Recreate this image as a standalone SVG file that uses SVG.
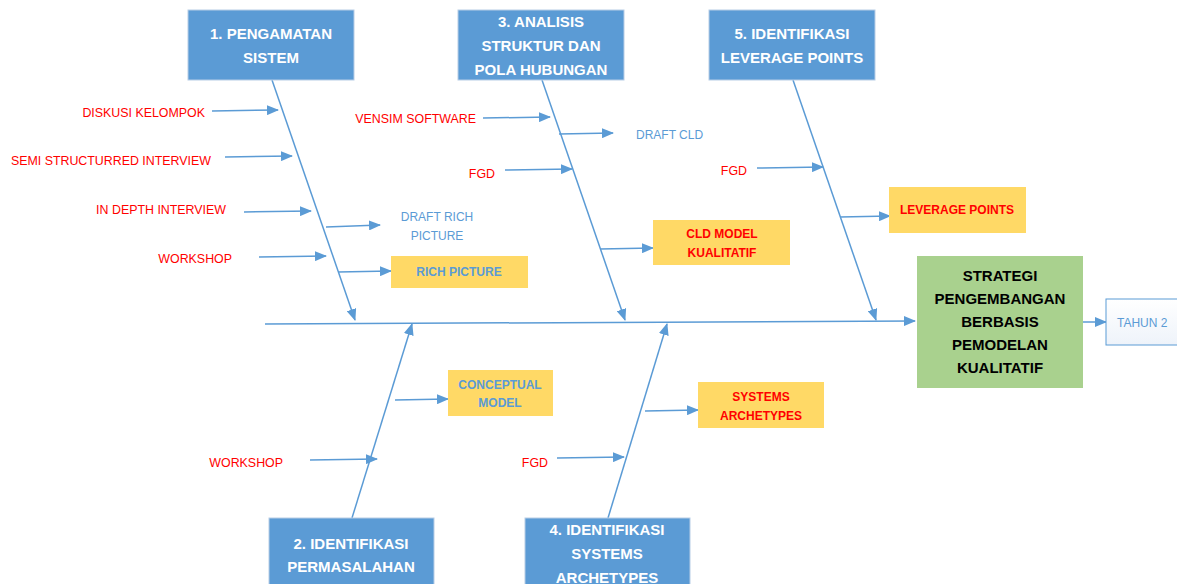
<svg xmlns="http://www.w3.org/2000/svg" width="1177" height="584" viewBox="0 0 1177 584">
<defs>
<marker id="ah" markerUnits="userSpaceOnUse" markerWidth="12" markerHeight="10" refX="11" refY="5" orient="auto">
<path d="M0,0 L12,5 L0,10 Z" fill="#5B9BD5"/>
</marker>
<linearGradient id="tg" x1="0" y1="0" x2="0" y2="1"><stop offset="0" stop-color="#ffffff"/><stop offset="1" stop-color="#eef3fa"/></linearGradient>
<style>
.ln{stroke:#5B9BD5;stroke-width:1.5;fill:none}
.ar{stroke:#5B9BD5;stroke-width:1.5;fill:none;marker-end:url(#ah)}
.bb{fill:#5B9BD5;stroke:#B8CDE6;stroke-width:1}
.bt{font-family:"Liberation Sans",Arial,sans-serif;font-weight:bold;font-size:15px;fill:#ffffff;text-anchor:middle}
.rd{font-family:"Liberation Sans",Arial,sans-serif;font-size:12.4px;fill:#FF0000}
.bl{font-family:"Liberation Sans",Arial,sans-serif;font-size:12px;fill:#5B9BD5}
.yb{fill:#FFD966}
.yr{font-family:"Liberation Sans",Arial,sans-serif;font-weight:bold;font-size:12px;fill:#FF0000;text-anchor:middle}
.yl{font-family:"Liberation Sans",Arial,sans-serif;font-weight:bold;font-size:12px;fill:#5B9BD5;text-anchor:middle}
.gt{font-family:"Liberation Sans",Arial,sans-serif;font-weight:bold;font-size:15px;fill:#000000;text-anchor:middle}
</style>
</defs>
<rect width="1177" height="584" fill="#ffffff"/>

<g id="connectors">
<line class="ar" x1="265" y1="324" x2="915" y2="321"/>
<line class="ar" x1="272" y1="80" x2="355" y2="320"/>
<line class="ar" x1="542" y1="80" x2="625" y2="320"/>
<line class="ar" x1="793" y1="80" x2="876" y2="320"/>
<line class="ar" x1="352" y1="518" x2="412" y2="324"/>
<line class="ar" x1="608" y1="518" x2="667" y2="324"/>
<line class="ar" x1="212" y1="111" x2="278" y2="110"/>
<line class="ar" x1="225" y1="157" x2="292" y2="156"/>
<line class="ar" x1="244" y1="212" x2="311" y2="211"/>
<line class="ar" x1="259" y1="257" x2="326" y2="256"/>
<line class="ar" x1="326" y1="227" x2="380" y2="225"/>
<line class="ar" x1="338" y1="272" x2="391" y2="271"/>
<line class="ar" x1="483" y1="118" x2="550" y2="117"/>
<line class="ar" x1="559" y1="134" x2="613" y2="133"/>
<line class="ar" x1="505" y1="170" x2="572" y2="169"/>
<line class="ar" x1="600" y1="249" x2="653" y2="248"/>
<line class="ar" x1="757" y1="168" x2="823" y2="167"/>
<line class="ar" x1="840" y1="217" x2="890" y2="216"/>
<line class="ar" x1="310" y1="460" x2="377" y2="459"/>
<line class="ar" x1="395" y1="400" x2="448" y2="399"/>
<line class="ar" x1="557" y1="458" x2="624" y2="457"/>
<line class="ar" x1="645" y1="411" x2="698" y2="410"/>
<line class="ar" x1="1083" y1="322" x2="1106" y2="322"/>
</g>

<g id="box1">
<rect class="bb" x="188" y="10" width="166" height="70"/>
<text class="bt" x="271" y="39">1. PENGAMATAN</text>
<text class="bt" x="271" y="63">SISTEM</text>
</g>
<g id="box3">
<rect class="bb" x="458" y="10" width="166" height="70"/>
<text class="bt" x="541" y="27">3. ANALISIS</text>
<text class="bt" x="541" y="51">STRUKTUR DAN</text>
<text class="bt" x="541" y="75">POLA HUBUNGAN</text>
</g>
<g id="box5">
<rect class="bb" x="709" y="10" width="166" height="70"/>
<text class="bt" x="792" y="39">5.  IDENTIFIKASI</text>
<text class="bt" x="792" y="63">LEVERAGE POINTS</text>
</g>
<g id="box2">
<rect class="bb" x="269" y="518" width="165" height="70"/>
<text class="bt" x="351" y="549">2. IDENTIFIKASI</text>
<text class="bt" x="351" y="572">PERMASALAHAN</text>
</g>
<g id="box4">
<rect class="bb" x="525" y="518" width="165" height="70"/>
<text class="bt" x="607" y="535">4. IDENTIFIKASI</text>
<text class="bt" x="607" y="559">SYSTEMS</text>
<text class="bt" x="607" y="583">ARCHETYPES</text>
</g>

<g id="lbl-diskusi"><text class="rd" x="205" y="117" text-anchor="end">DISKUSI KELOMPOK</text></g>
<g id="lbl-semi"><text class="rd" x="211" y="165" text-anchor="end">SEMI STRUCTURRED INTERVIEW</text></g>
<g id="lbl-indepth"><text class="rd" x="226" y="214" text-anchor="end">IN DEPTH INTERVIEW</text></g>
<g id="lbl-workshop1"><text class="rd" x="232" y="263" text-anchor="end">WORKSHOP</text></g>
<g id="lbl-draftrich">
<text class="bl" x="437" y="221" text-anchor="middle">DRAFT RICH</text>
<text class="bl" x="437" y="240" text-anchor="middle">PICTURE</text>
</g>
<g id="richpicture">
<rect class="yb" x="391" y="256" width="137" height="32"/>
<text class="yl" x="459" y="276">RICH PICTURE</text>
</g>
<g id="lbl-vensim"><text class="rd" x="476" y="123" text-anchor="end">VENSIM SOFTWARE</text></g>
<g id="lbl-draftcld"><text class="bl" x="636" y="139">DRAFT CLD</text></g>
<g id="lbl-fgd3"><text class="rd" x="495" y="178" text-anchor="end">FGD</text></g>
<g id="cldmodel">
<rect class="yb" x="653" y="220" width="137" height="45"/>
<text class="yr" x="722" y="238">CLD MODEL</text>
<text class="yr" x="722" y="257">KUALITATIF</text>
</g>
<g id="lbl-fgd5"><text class="rd" x="747" y="175" text-anchor="end">FGD</text></g>
<g id="leverage">
<rect class="yb" x="889" y="187" width="137" height="46"/>
<text class="yr" x="957" y="214">LEVERAGE POINTS</text>
</g>
<g id="strategi">
<rect x="917" y="256" width="166" height="132" fill="#A9D18E"/>
<text class="gt" x="1000" y="281">STRATEGI</text>
<text class="gt" x="1000" y="304">PENGEMBANGAN</text>
<text class="gt" x="1000" y="327">BERBASIS</text>
<text class="gt" x="1000" y="350">PEMODELAN</text>
<text class="gt" x="1000" y="373">KUALITATIF</text>
</g>
<g id="tahun2">
<rect x="1106" y="299" width="80" height="46" fill="url(#tg)" stroke="#5B9BD5" stroke-width="1"/>
<text class="bl" x="1117" y="327">TAHUN 2</text>
</g>
<g id="lbl-workshop2"><text class="rd" x="283" y="467" text-anchor="end">WORKSHOP</text></g>
<g id="conceptual">
<rect class="yb" x="448" y="370" width="105" height="46"/>
<text class="yl" x="500" y="389">CONCEPTUAL</text>
<text class="yl" x="500" y="407">MODEL</text>
</g>
<g id="lbl-fgd4"><text class="rd" x="548" y="467" text-anchor="end">FGD</text></g>
<g id="archetypes">
<rect class="yb" x="698" y="382" width="126" height="46"/>
<text class="yr" x="761" y="401">SYSTEMS</text>
<text class="yr" x="761" y="420">ARCHETYPES</text>
</g>
</svg>
